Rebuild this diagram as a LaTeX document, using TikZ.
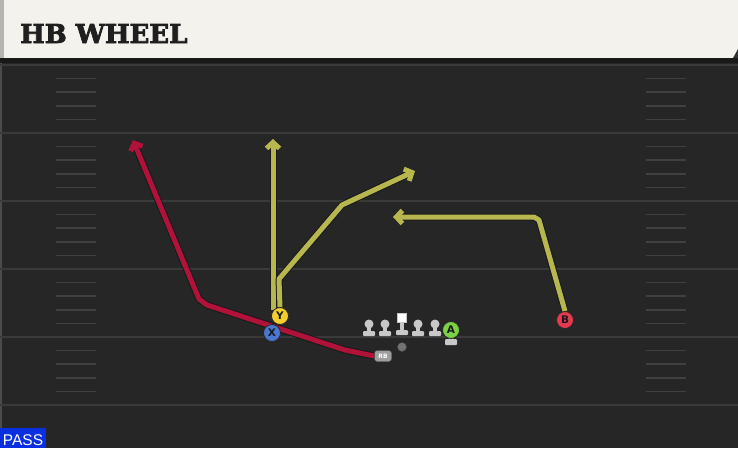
\documentclass[tikz,border=0pt]{standalone}
\usepackage{fontspec}
\setmainfont{DejaVu Serif}
\newfontfamily\titlefont{DejaVu Serif}[BoldFeatures={FakeBold=3}]
\newfontfamily\labelfont{DejaVu Sans}
\newfontfamily\passfont{Liberation Sans}
\usetikzlibrary{arrows.meta}
\definecolor{fieldbg}{HTML}{262626}
\definecolor{yardc}{HTML}{3A3A3A}
\definecolor{hashc}{HTML}{404040}
\definecolor{headerc}{HTML}{F4F2EC}
\definecolor{stripec}{HTML}{B4B4B0}
\definecolor{routeY}{HTML}{B8B64E}
\definecolor{routeR}{HTML}{B0123A}
\definecolor{plY}{HTML}{F4CE2E}
\definecolor{plX}{HTML}{4A78D0}
\definecolor{plB}{HTML}{E63950}
\definecolor{plA}{HTML}{7CD043}
\definecolor{lmc}{HTML}{C8C8C8}
\definecolor{passc}{HTML}{0A2FE0}
\tikzset{
  yard/.style={yardc, line width=2pt},
  hashm/.style={hashc, line width=1.5pt},
  routeout/.style={black!90, line width=7pt, line join=round, -{Straight Barb[length=6.5pt,width=15pt,line width=1.8pt]}},
  routein/.style={line width=5pt, line join=round, -{Straight Barb[length=6pt,width=13pt]}},
  player/.style={circle, draw=black!85, line width=0.8pt, minimum size=17pt, inner sep=0pt,
    font=\labelfont\bfseries\fontsize{10.5}{10.5}\selectfont, text=black!90},
  lmhead/.style={circle, fill=lmc, minimum size=9pt, inner sep=0pt},
  lineman/.pic={
    \fill[lmc] (-2,0) rectangle (2,8);
    \fill[lmc, rounded corners=1pt] (-6,7) rectangle (6,12);
    \node[lmhead] (-head) at (0,0) {};
  }
}
\begin{document}
\begin{tikzpicture}[x=1pt,y=-1pt]
\useasboundingbox (0,0) rectangle (738,448);
% field
\fill[fieldbg] (0,0) rectangle (738,448);
\fill[black!20!fieldbg!80!white] (0,62) rectangle (1.5,448);
\foreach \yy in {65,133,201,269,337,405} {
  \draw[yard] (0,\yy) -- (738,\yy);
}
\foreach \yy in {65,133,201,269,337} {
  \foreach \k in {1,2,3,4} {
    \draw[hashm] (56,\yy+13.6*\k) -- (96,\yy+13.6*\k);
    \draw[hashm] (646,\yy+13.6*\k) -- (686,\yy+13.6*\k);
  }
}
% header
\fill[black!90] (0,57) rectangle (738,63);
\fill[headerc] (0,0) rectangle (738,58);
\fill[stripec] (0,0) rectangle (4,58);
\fill[black!80] (738,49) -- (738,58) -- (733,58) -- cycle;
\node[anchor=base west, inner sep=0pt, font=\titlefont\bfseries\fontsize{26}{26}\selectfont, text=black!88] (title) at (20,43) {HB WHEEL};
% players
\node[player, fill=plY] (Y) at (280,316) {Y};
\node[player, fill=plX] (X) at (272,333) {X};
\node[player, fill=plB] (B) at (565,320) {B};
\fill[lmc, rounded corners=1pt] (445,339) rectangle (457,345);
\fill[lmc] (449,334) rectangle (453,341);
\node[player, fill=plA] (A) at (451,330) {A};
% line
\pic (lt) at (369,324) {lineman};
\pic (lg) at (385,324) {lineman};
\pic (rg) at (418,324) {lineman};
\pic (rt) at (435,324) {lineman};
\fill[lmc] (400,320) rectangle (404,332);
\fill[lmc, rounded corners=1pt] (396,330) rectangle (408,335);
\node[draw=lmc, fill=white, minimum size=9pt, inner sep=0pt, line width=0.5pt] (C) at (402,318) {};
\node[circle, fill=black!55, draw=black!70, minimum size=9pt, inner sep=0pt] (ball) at (402,347) {};
% route coordinates
\coordinate (yTop) at (273,139);
\coordinate (s1) at (279,279);
\coordinate (s2) at (342,205);
\coordinate (s3) at (415,171);
\coordinate (b1) at (539,220);
\coordinate (b2) at (534,217);
\coordinate (b3) at (393,217);
\coordinate (r1) at (345,350);
\coordinate (r2) at (207,305);
\coordinate (r3) at (199,299);
\coordinate (r4) at (133,140);
\tikzset{rbbox/.style={draw=black!80, fill=black!38, rounded corners=2.5pt, minimum width=17pt, minimum height=11pt, inner sep=0pt,
      font=\labelfont\bfseries\fontsize{6}{6}\selectfont, text=white!85}}
\node[rbbox] (RB) at (383,356) {RB};
% routes
\draw[routeout] (RB.west) .. controls (r1) .. (r1) -- (r2) -- (r3) -- (r4);
\draw[routein, routeR] (RB.west) .. controls (r1) .. (r1) -- (r2) -- (r3) -- (r4);
\draw[routeout] (Y.north west -| yTop) -- (yTop);
\draw[routein, routeY] (Y.north west -| yTop) -- (yTop);
\draw[routeout] (Y.north) -- (s1) -- (s2) -- (s3);
\draw[routein, routeY] (Y.north) -- (s1) -- (s2) -- (s3);
\draw[routeout] (B.north) -- (b1) -- (b2) -- (b3);
\draw[routein, routeY] (B.north) -- (b1) -- (b2) -- (b3);
% redraw players on top
\node[player, fill=plX] at (X) {X};
\node[player, fill=plY] at (Y) {Y};
\node[player, fill=plB] at (B) {B};
\node[rbbox] at (RB) {RB};
% pass label
\fill[passc] (0,428) rectangle (46,448);
\node[anchor=base, inner sep=0pt, text=white, font=\passfont\fontsize{15.5}{15.5}\selectfont] (pass) at (23,445) {PASS};
\end{tikzpicture}
\end{document}
